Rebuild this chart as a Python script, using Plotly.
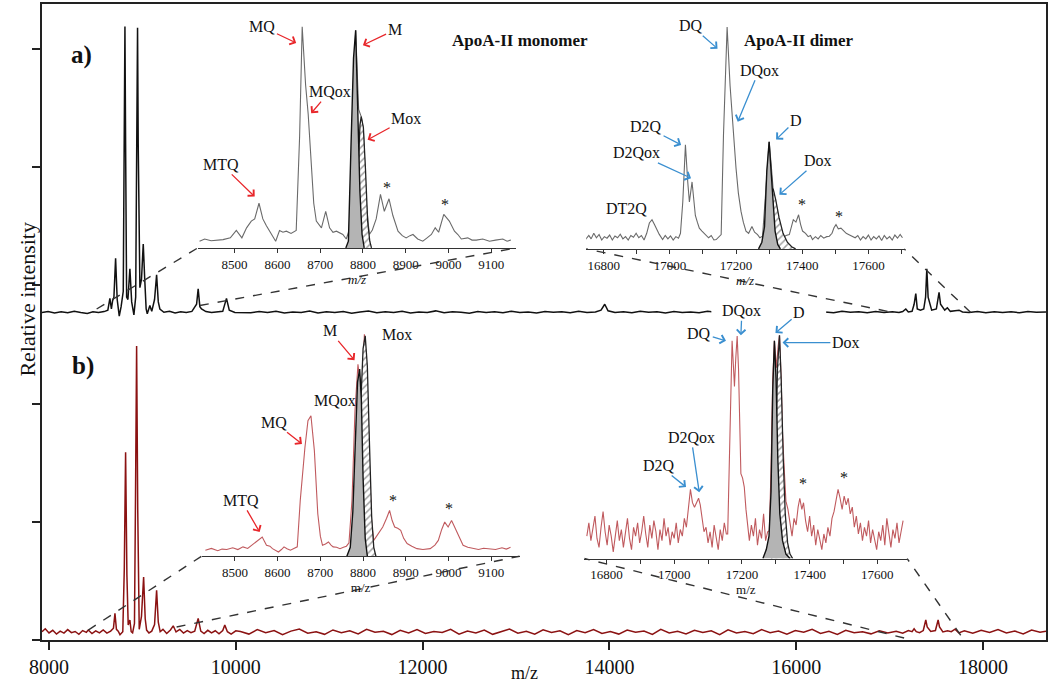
import plotly.graph_objects as go

FONT = "Liberation Serif, Times New Roman, serif"

# ---------------- main spectra: (m/z, relative intensity in tick units) ----------------
main_a = [
    (7925, 2.770), (7990, 2.778), (8060, 2.766), (8130, 2.776), (8200, 2.768), (8270, 2.780),
    (8340, 2.770), (8410, 2.762), (8470, 2.776), (8530, 2.770), (8590, 2.778), (8630, 2.790),
    (8652, 2.890), (8668, 2.800), (8681, 2.870), (8695, 2.900), (8713, 3.230), (8730, 2.880),
    (8752, 2.740), (8772, 2.820), (8795, 2.950), (8806, 4.200), (8813, 5.190), (8820, 4.200),
    (8831, 2.900), (8845, 2.880), (8866, 3.140), (8885, 2.860), (8909, 2.750), (8928, 2.900),
    (8940, 4.200), (8948, 5.180), (8955, 4.200), (8973, 2.980), (8990, 3.050), (9009, 3.350),
    (9025, 3.050), (9040, 2.800), (9052, 2.760), (9080, 2.830), (9100, 2.780), (9130, 2.880),
    (9152, 3.090), (9170, 2.860), (9187, 2.800), (9230, 2.772), (9290, 2.780), (9350, 2.766),
    (9410, 2.776), (9470, 2.770), (9530, 2.780), (9561, 2.820), (9580, 2.840), (9597, 2.970),
    (9615, 2.820), (9633, 2.800), (9680, 2.778), (9740, 2.770), (9800, 2.776), (9860, 2.780),
    (9900, 2.890), (9930, 2.790), (9990, 2.770), (10070, 2.772), (10160, 2.768), (10250, 2.778),
    (10340, 2.770), (10430, 2.781), (10520, 2.766), (10610, 2.775), (10700, 2.771), (10790, 2.783),
    (10880, 2.767), (10970, 2.776), (11060, 2.770), (11150, 2.779), (11240, 2.765), (11330, 2.774),
    (11420, 2.782), (11510, 2.769), (11600, 2.776), (11690, 2.771), (11780, 2.780), (11870, 2.766),
    (11960, 2.775), (12050, 2.770), (12140, 2.784), (12230, 2.768), (12320, 2.777), (12410, 2.772),
    (12500, 2.765), (12590, 2.779), (12680, 2.771), (12770, 2.776), (12860, 2.768), (12950, 2.781),
    (13040, 2.770), (13130, 2.775), (13220, 2.767), (13310, 2.779), (13400, 2.772), (13490, 2.776),
    (13580, 2.768), (13670, 2.780), (13760, 2.771), (13850, 2.775), (13910, 2.790), (13950, 2.840),
    (13985, 2.785), (14060, 2.770), (14150, 2.777), (14240, 2.768), (14330, 2.781), (14420, 2.772),
    (14510, 2.776), (14600, 2.767), (14690, 2.779), (14780, 2.771), (14870, 2.775), (14960, 2.768),
    (15050, 2.780), (15140, 2.772), (15230, 2.776), (15320, 2.769), (15410, 2.778), (15500, 2.771),
    (15590, 2.775), (15680, 2.767), (15770, 2.780), (15860, 2.772), (15950, 2.776), (16040, 2.769),
    (16130, 2.778), (16220, 2.771), (16310, 2.775), (16400, 2.768), (16490, 2.780), (16580, 2.772),
    (16670, 2.776), (16760, 2.769), (16850, 2.778), (16940, 2.771), (17030, 2.776), (17100, 2.770),
    (17140, 2.778), (17173, 2.800), (17200, 2.775), (17240, 2.780), (17262, 2.840), (17280, 2.930),
    (17296, 2.800), (17330, 2.790), (17365, 2.800), (17385, 2.900), (17398, 3.140), (17412, 2.900),
    (17450, 2.790), (17500, 2.800), (17515, 2.880), (17529, 2.940), (17545, 2.840), (17590, 2.790),
    (17618, 2.810), (17650, 2.780), (17700, 2.785), (17743, 2.790), (17780, 2.775), (17850, 2.770),
    (17940, 2.778), (18030, 2.768), (18120, 2.777), (18210, 2.771), (18300, 2.776), (18390, 2.768),
    (18480, 2.779), (18570, 2.772), (18674, 2.775),
]

main_b = [
    (7925, 0.070), (7960, 0.095), (8000, 0.060), (8040, 0.082), (8080, 0.050), (8120, 0.075),
    (8160, 0.058), (8200, 0.088), (8240, 0.062), (8280, 0.072), (8320, 0.048), (8360, 0.080),
    (8400, 0.065), (8420, 0.084), (8460, 0.055), (8500, 0.078), (8540, 0.060), (8580, 0.085),
    (8620, 0.058), (8660, 0.075), (8690, 0.100), (8706, 0.225), (8722, 0.090), (8741, 0.075),
    (8760, 0.045), (8790, 0.070), (8806, 0.600), (8820, 1.588), (8834, 0.550), (8848, 0.126),
    (8866, 0.169), (8880, 0.070), (8895, 0.060), (8915, 0.140), (8926, 1.200), (8938, 2.487),
    (8950, 1.100), (8966, 0.090), (8990, 0.200), (9013, 0.533), (9030, 0.180), (9045, 0.084),
    (9070, 0.060), (9100, 0.075), (9130, 0.130), (9152, 0.420), (9170, 0.150), (9190, 0.070),
    (9220, 0.090), (9260, 0.055), (9300, 0.085), (9330, 0.120), (9360, 0.068), (9400, 0.090),
    (9440, 0.058), (9480, 0.080), (9520, 0.062), (9560, 0.075), (9597, 0.183), (9625, 0.075),
    (9660, 0.055), (9700, 0.082), (9740, 0.060), (9780, 0.078), (9820, 0.052), (9860, 0.080),
    (9882, 0.126), (9910, 0.070), (9950, 0.050), (10000, 0.078), (10050, 0.072), (10140, 0.050),
    (10230, 0.088), (10320, 0.062), (10410, 0.080), (10500, 0.045), (10590, 0.075), (10680, 0.092),
    (10770, 0.058), (10860, 0.070), (10950, 0.048), (11040, 0.085), (11130, 0.062), (11220, 0.078),
    (11310, 0.052), (11400, 0.090), (11490, 0.066), (11580, 0.074), (11670, 0.046), (11760, 0.082),
    (11850, 0.060), (11940, 0.088), (12030, 0.055), (12120, 0.072), (12210, 0.064), (12300, 0.090),
    (12390, 0.050), (12480, 0.076), (12570, 0.060), (12660, 0.084), (12750, 0.048), (12840, 0.070),
    (12930, 0.092), (13020, 0.058), (13110, 0.074), (13200, 0.050), (13290, 0.086), (13380, 0.064),
    (13470, 0.078), (13560, 0.046), (13650, 0.080), (13740, 0.062), (13830, 0.088), (13920, 0.056),
    (14010, 0.072), (14100, 0.050), (14190, 0.084), (14280, 0.066), (14370, 0.076), (14460, 0.048),
    (14550, 0.090), (14640, 0.060), (14730, 0.074), (14820, 0.052), (14910, 0.082), (15000, 0.064),
    (15090, 0.078), (15180, 0.046), (15270, 0.086), (15360, 0.060), (15450, 0.072), (15540, 0.054),
    (15630, 0.088), (15720, 0.062), (15810, 0.076), (15900, 0.050), (15990, 0.080), (16080, 0.066),
    (16170, 0.090), (16260, 0.056), (16350, 0.074), (16440, 0.048), (16530, 0.082), (16620, 0.062),
    (16710, 0.070), (16800, 0.052), (16890, 0.078), (16980, 0.060), (17070, 0.074), (17140, 0.058),
    (17200, 0.080), (17240, 0.070), (17262, 0.095), (17285, 0.070), (17320, 0.062), (17360, 0.080),
    (17372, 0.120), (17387, 0.169), (17402, 0.110), (17440, 0.072), (17490, 0.080), (17505, 0.120),
    (17519, 0.169), (17534, 0.110), (17570, 0.068), (17620, 0.078), (17660, 0.070), (17700, 0.092),
    (17740, 0.060), (17800, 0.078), (17890, 0.058), (17980, 0.082), (18070, 0.064), (18160, 0.088),
    (18250, 0.060), (18340, 0.076), (18430, 0.052), (18520, 0.084), (18610, 0.066), (18674, 0.074),
]

# ---------------- inset spectra: (m/z, normalised intensity) ----------------
a_mono_line = [
    (8418, 0.030), (8430, 0.040), (8445, 0.032), (8460, 0.035), (8473, 0.037), (8490, 0.045),
    (8504, 0.078), (8517, 0.045), (8528, 0.090), (8539, 0.120), (8547, 0.130), (8557, 0.200),
    (8566, 0.130), (8574, 0.100), (8582, 0.075), (8590, 0.050), (8596, 0.030), (8605, 0.078),
    (8613, 0.070), (8621, 0.075), (8632, 0.065), (8644, 0.078), (8652, 0.500), (8658, 0.990),
    (8666, 0.730), (8672, 0.600), (8679, 0.390), (8685, 0.200), (8691, 0.120), (8703, 0.090),
    (8713, 0.164), (8722, 0.090), (8730, 0.070), (8738, 0.075), (8753, 0.060), (8761, 0.040),
    (8768, 0.080), (8775, 0.500), (8783, 0.975), (8790, 0.620), (8796, 0.588), (8801, 0.530),
    (8808, 0.200), (8815, 0.060), (8822, 0.080), (8831, 0.130), (8841, 0.240), (8850, 0.164),
    (8861, 0.220), (8870, 0.145), (8882, 0.075), (8892, 0.055), (8901, 0.045), (8910, 0.055),
    (8917, 0.060), (8928, 0.040), (8940, 0.030), (8950, 0.045), (8960, 0.060), (8969, 0.090),
    (8977, 0.070), (8989, 0.150), (9002, 0.120), (9014, 0.075), (9022, 0.060), (9030, 0.040),
    (9045, 0.045), (9055, 0.035), (9065, 0.035), (9080, 0.040), (9096, 0.030), (9110, 0.035),
    (9127, 0.040), (9137, 0.030), (9146, 0.035),
]
a_mono_M = [(8760, 0), (8766, 0.03), (8772, 0.45), (8778, 0.85), (8783, 0.975), (8788, 0.60),
            (8793, 0.25), (8798, 0.06), (8803, 0)]
a_mono_Mox = [(8782, 0), (8788, 0.30), (8793, 0.55), (8796, 0.588), (8801, 0.54), (8806, 0.35),
              (8811, 0.12), (8816, 0.03), (8820, 0)]

a_dim_line = [
    (16745, 0.042), (16755, 0.060), (16762, 0.045), (16770, 0.070), (16778, 0.050), (16786, 0.065),
    (16794, 0.040), (16802, 0.055), (16810, 0.048), (16818, 0.062), (16826, 0.040), (16834, 0.058),
    (16842, 0.050), (16850, 0.066), (16858, 0.045), (16866, 0.055), (16874, 0.040), (16882, 0.060),
    (16890, 0.052), (16898, 0.070), (16906, 0.050), (16914, 0.060), (16922, 0.040), (16930, 0.070),
    (16938, 0.116), (16946, 0.131), (16953, 0.110), (16960, 0.087), (16968, 0.065), (16978, 0.042),
    (16986, 0.060), (16994, 0.045), (17002, 0.058), (17010, 0.040), (17018, 0.055), (17026, 0.048),
    (17032, 0.070), (17039, 0.210), (17047, 0.466), (17054, 0.300), (17059, 0.210), (17067, 0.300),
    (17072, 0.220), (17077, 0.150), (17083, 0.120), (17089, 0.093), (17097, 0.080), (17109, 0.064),
    (17117, 0.050), (17125, 0.060), (17133, 0.040), (17140, 0.042), (17148, 0.055), (17155, 0.064),
    (17162, 0.510), (17173, 0.994), (17182, 0.730), (17190, 0.555), (17200, 0.360), (17207, 0.250),
    (17215, 0.168), (17222, 0.120), (17230, 0.080), (17238, 0.070), (17248, 0.100), (17256, 0.075),
    (17265, 0.064), (17272, 0.050), (17280, 0.057), (17287, 0.200), (17300, 0.480), (17306, 0.380),
    (17312, 0.270), (17320, 0.180), (17330, 0.090), (17341, 0.050), (17351, 0.060), (17361, 0.064),
    (17367, 0.100), (17373, 0.131), (17381, 0.120), (17389, 0.153), (17395, 0.110), (17401, 0.080),
    (17410, 0.070), (17418, 0.055), (17425, 0.060), (17431, 0.042), (17440, 0.055), (17448, 0.045),
    (17456, 0.060), (17465, 0.048), (17474, 0.055), (17482, 0.057), (17490, 0.070), (17496, 0.095),
    (17502, 0.109), (17509, 0.090), (17517, 0.093), (17525, 0.080), (17533, 0.070), (17540, 0.065),
    (17552, 0.057), (17560, 0.050), (17568, 0.060), (17576, 0.040), (17584, 0.055), (17592, 0.045),
    (17600, 0.062), (17608, 0.040), (17616, 0.055), (17624, 0.045), (17632, 0.058), (17640, 0.038),
    (17648, 0.060), (17656, 0.045), (17664, 0.055), (17672, 0.040), (17680, 0.062), (17688, 0.048),
    (17696, 0.065), (17703, 0.050),
]
a_dim_D = [(17268, 0), (17278, 0.03), (17286, 0.10), (17293, 0.35), (17300, 0.48), (17306, 0.36),
           (17312, 0.20), (17318, 0.08), (17326, 0.02), (17334, 0)]
a_dim_Dox = [(17290, 0), (17300, 0.15), (17306, 0.25), (17312, 0.27), (17320, 0.22), (17330, 0.14),
             (17342, 0.07), (17355, 0.03), (17368, 0.01), (17380, 0)]

b_mono_line = [
    (8431, 0.027), (8445, 0.035), (8460, 0.025), (8470, 0.032), (8481, 0.030), (8495, 0.038),
    (8507, 0.030), (8519, 0.042), (8530, 0.035), (8540, 0.050), (8546, 0.057), (8555, 0.070),
    (8564, 0.086), (8574, 0.049), (8582, 0.045), (8588, 0.034), (8595, 0.028), (8602, 0.019),
    (8609, 0.030), (8615, 0.042), (8622, 0.034), (8630, 0.027), (8638, 0.035), (8646, 0.042),
    (8653, 0.250), (8659, 0.400), (8664, 0.488), (8671, 0.607), (8678, 0.629), (8686, 0.473),
    (8694, 0.190), (8700, 0.090), (8705, 0.049), (8712, 0.055), (8719, 0.064), (8725, 0.050),
    (8730, 0.042), (8738, 0.040), (8746, 0.034), (8754, 0.040), (8761, 0.045), (8767, 0.060),
    (8774, 0.250), (8781, 0.650), (8788, 0.860), (8793, 0.780), (8797, 0.700), (8803, 0.994),
    (8809, 0.800), (8815, 0.400), (8820, 0.150), (8825, 0.071), (8835, 0.100), (8846, 0.131),
    (8855, 0.170), (8862, 0.205), (8868, 0.160), (8874, 0.131), (8881, 0.125), (8888, 0.116),
    (8895, 0.080), (8903, 0.057), (8914, 0.045), (8926, 0.034), (8940, 0.030), (8957, 0.034),
    (8968, 0.050), (8976, 0.071), (8984, 0.120), (8991, 0.153), (8999, 0.131), (9007, 0.160),
    (9012, 0.140), (9018, 0.116), (9026, 0.080), (9034, 0.049), (9045, 0.040), (9057, 0.034),
    (9070, 0.030), (9082, 0.036), (9095, 0.034), (9110, 0.030), (9125, 0.038), (9135, 0.032),
    (9145, 0.040),
]
b_mono_M = [(8762, 0), (8770, 0.04), (8776, 0.20), (8782, 0.55), (8787, 0.78), (8792, 0.838),
            (8796, 0.70), (8800, 0.35), (8805, 0.08), (8810, 0)]
b_mono_Mox = [(8782, 0), (8790, 0.30), (8795, 0.70), (8800, 0.93), (8805, 0.987), (8810, 0.85),
              (8815, 0.50), (8820, 0.18), (8825, 0.04), (8830, 0)]

b_dim_line = [
    (16742, 0.10), (16748, 0.16), (16754, 0.08), (16760, 0.13), (16766, 0.19), (16772, 0.09),
    (16778, 0.05), (16784, 0.14), (16790, 0.21), (16796, 0.12), (16802, 0.06), (16808, 0.15),
    (16814, 0.10), (16820, 0.03), (16826, 0.11), (16832, 0.17), (16838, 0.08), (16844, 0.13),
    (16850, 0.05), (16856, 0.12), (16862, 0.18), (16868, 0.09), (16874, 0.04), (16880, 0.14),
    (16886, 0.10), (16892, 0.16), (16898, 0.07), (16904, 0.12), (16910, 0.19), (16916, 0.11),
    (16922, 0.05), (16928, 0.15), (16934, 0.09), (16940, 0.17), (16946, 0.12), (16952, 0.04),
    (16958, 0.13), (16964, 0.08), (16970, 0.18), (16976, 0.10), (16982, 0.14), (16988, 0.06),
    (16994, 0.12), (17000, 0.09), (17006, 0.16), (17012, 0.07), (17018, 0.13), (17024, 0.10),
    (17030, 0.18), (17036, 0.14), (17042, 0.22), (17048, 0.31), (17054, 0.25), (17060, 0.23),
    (17066, 0.25), (17072, 0.27), (17077, 0.24), (17082, 0.18), (17088, 0.12), (17094, 0.14),
    (17100, 0.07), (17106, 0.12), (17112, 0.05), (17118, 0.15), (17124, 0.09), (17130, 0.04),
    (17136, 0.13), (17142, 0.08), (17148, 0.16), (17154, 0.11), (17158, 0.11), (17162, 0.40),
    (17166, 0.75), (17171, 0.975), (17175, 0.86), (17178, 0.77), (17182, 0.90), (17186, 0.997),
    (17190, 0.85), (17193, 0.60), (17197, 0.38), (17202, 0.36), (17207, 0.32), (17212, 0.22),
    (17217, 0.14), (17222, 0.08), (17228, 0.15), (17234, 0.10), (17240, 0.18), (17246, 0.06),
    (17252, 0.13), (17258, 0.09), (17264, 0.20), (17270, 0.08), (17276, 0.12), (17281, 0.125),
    (17286, 0.40), (17291, 0.80), (17296, 0.975), (17302, 0.855), (17307, 0.95), (17311, 1.00),
    (17316, 0.80), (17320, 0.56), (17325, 0.40), (17330, 0.257), (17336, 0.22), (17342, 0.16),
    (17348, 0.10), (17354, 0.18), (17360, 0.15), (17366, 0.23), (17371, 0.27), (17377, 0.22),
    (17382, 0.25), (17388, 0.17), (17394, 0.12), (17400, 0.19), (17406, 0.10), (17412, 0.15),
    (17418, 0.06), (17424, 0.13), (17430, 0.09), (17436, 0.04), (17442, 0.11), (17448, 0.07),
    (17454, 0.14), (17460, 0.10), (17466, 0.18), (17472, 0.21), (17478, 0.26), (17484, 0.31),
    (17490, 0.27), (17496, 0.22), (17502, 0.28), (17508, 0.24), (17514, 0.27), (17520, 0.20),
    (17526, 0.23), (17532, 0.14), (17538, 0.19), (17544, 0.11), (17550, 0.16), (17556, 0.08),
    (17562, 0.14), (17568, 0.10), (17574, 0.17), (17580, 0.07), (17586, 0.13), (17592, 0.09),
    (17598, 0.04), (17604, 0.12), (17610, 0.08), (17616, 0.15), (17622, 0.06), (17628, 0.18),
    (17634, 0.11), (17640, 0.05), (17646, 0.13), (17652, 0.09), (17658, 0.16), (17664, 0.07),
    (17670, 0.12), (17676, 0.17),
]
b_dim_D = [(17262, 0), (17272, 0.04), (17280, 0.10), (17286, 0.30), (17291, 0.75), (17296, 0.975),
           (17301, 0.80), (17306, 0.45), (17312, 0.20), (17320, 0.08), (17330, 0.02), (17342, 0)]
b_dim_Dox = [(17288, 0), (17295, 0.15), (17300, 0.45), (17305, 0.85), (17311, 1.0), (17316, 0.80),
             (17322, 0.45), (17328, 0.20), (17335, 0.07), (17342, 0.02), (17350, 0)]

# peak labels: (text, tip m/z, tip int, label m/z, label int); tip None -> no arrow
labels_a_mono = [("MQ", 8644, 0.918, 8565, 0.99), ("MQox", 8679, 0.603, 8722, 0.70),
                 ("MTQ", 8547, 0.23, 8469, 0.374), ("M", 8800, 0.908, 8874, 0.976),
                 ("Mox", 8811, 0.484, 8901, 0.579), ("*", None, None, 8856, 0.27),
                 ("*", None, None, 8991, 0.195)]
labels_a_dim = [("DQ", 17144, 0.897, 17065, 1.0), ("DQox", 17205, 0.57, 17270, 0.80),
                ("D2Q", 17034, 0.466, 16928, 0.548), ("D2Qox", 17064, 0.317, 16898, 0.43),
                ("DT2Q", None, None, 16868, 0.183), ("D", 17321, 0.49, 17381, 0.576),
                ("Dox", 17331, 0.243, 17447, 0.395), ("*", None, None, 17398, 0.198),
                ("*", None, None, 17512, 0.146)]
labels_b_mono = [("M", 8780, 0.878, 8722, 1.009), ("Mox", None, None, 8880, 0.994),
                 ("MQox", None, None, 8734, 0.696), ("MQ", 8657, 0.503, 8592, 0.60),
                 ("MTQ", 8558, 0.108, 8515, 0.25), ("*", None, None, 8869, 0.25),
                 ("*", None, None, 9001, 0.213)]
labels_b_dim = [("DQ", 17153, 0.975, 17074, 1.01), ("DQox", 17197, 1.0, 17200, 1.11),
                ("D", 17299, 1.01, 17369, 1.10), ("Dox", 17320, 0.967, 17507, 0.967),
                ("D2Qox", 17074, 0.297, 17050, 0.543), ("D2Q", 17035, 0.32, 16956, 0.417),
                ("*", None, None, 17379, 0.337), ("*", None, None, 17502, 0.364)]

# regions of the main spectrum that each inset magnifies: (m/z from, m/z to, level from, level to)
zoom_a_mono = (8510, 9615, 2.80, 2.83)
zoom_a_dim = (16977, 17868, 2.78, 2.77)
zoom_b_mono = (8420, 9366, 0.084, 0.11)
zoom_b_dim = (17155, 17761, 0.017, 0.04)

# ---------------- axes geometry ----------------
MAIN_X = [7925, 18674]
MAIN_Y = [0, 5.38]
insets = {
    "a_mono": dict(ax=2, xr=[8414, 9159], xd=[0.1552, 0.4726], yr=[0, 1.05], yd=[0.6165, 0.9851],
                   dtick=100, tick0=8500, minor=None, title="<i>m/z</i>"),
    "a_dim": dict(ax=3, xr=[16747, 17708], xd=[0.5420, 0.8587], yr=[0, 1.05], yd=[0.6149, 0.9835],
                  dtick=200, tick0=16800, minor=100, title="<i>m/z</i>"),
    "b_mono": dict(ax=4, xr=[8422, 9166], xd=[0.1589, 0.4756], yr=[0, 1.2], yd=[0.1317, 0.5530],
                   dtick=100, tick0=8500, minor=None, title="m/z"),
    "b_dim": dict(ax=5, xr=[16735, 17688], xd=[0.5403, 0.8617], yr=[0, 1.2], yd=[0.1281, 0.5494],
                  dtick=200, tick0=16800, minor=100, title="m/z"),
}

RED_ARROW = "#e8262a"
BLUE_ARROW = "#3a8fd0"


def xs(pts):
    return [p[0] for p in pts]


def ys(pts):
    return [p[1] for p in pts]


def main_to_paper(mz, v):
    return ((mz - MAIN_X[0]) / (MAIN_X[1] - MAIN_X[0]), (v - MAIN_Y[0]) / (MAIN_Y[1] - MAIN_Y[0]))


def inset_to_paper(ins, mz, v):
    xr, xd, yr, yd = ins["xr"], ins["xd"], ins["yr"], ins["yd"]
    px = xd[0] + (mz - xr[0]) / (xr[1] - xr[0]) * (xd[1] - xd[0])
    py = yd[0] + (v - yr[0]) / (yr[1] - yr[0]) * (yd[1] - yd[0])
    return px, py


fig = go.Figure()

# main spectra
fig.add_trace(go.Scatter(x=xs(main_a), y=ys(main_a), mode="lines",
                         line=dict(color="#111111", width=1.5), showlegend=False))
fig.add_trace(go.Scatter(x=xs(main_b), y=ys(main_b), mode="lines",
                         line=dict(color="#8b1212", width=1.5), showlegend=False))


def add_inset(ins, line_pts, line_color, main_peak, ox_peak):
    n = ins["ax"]
    xa, ya = "x%d" % n, "y%d" % n
    fig.add_trace(go.Scatter(x=xs(line_pts), y=ys(line_pts), mode="lines", xaxis=xa, yaxis=ya,
                             line=dict(color=line_color, width=1.1), showlegend=False))
    fig.add_trace(go.Scatter(x=xs(ox_peak), y=ys(ox_peak), mode="lines", xaxis=xa, yaxis=ya,
                             fill="toself",
                             fillpattern=dict(shape="/", fgcolor="#444444", bgcolor="white",
                                              size=5, solidity=0.3),
                             line=dict(color="#222222", width=1.3), showlegend=False))
    fig.add_trace(go.Scatter(x=xs(main_peak), y=ys(main_peak), mode="lines", xaxis=xa, yaxis=ya,
                             fill="toself", fillcolor="#b4b4b4",
                             line=dict(color="#111111", width=1.4), showlegend=False))


add_inset(insets["a_mono"], a_mono_line, "#6a6a6a", a_mono_M, a_mono_Mox)
add_inset(insets["a_dim"], a_dim_line, "#6a6a6a", a_dim_D, a_dim_Dox)
add_inset(insets["b_mono"], b_mono_line, "#c05a5e", b_mono_M, b_mono_Mox)
add_inset(insets["b_dim"], b_dim_line, "#c05a5e", b_dim_D, b_dim_Dox)

layout = dict(
    width=1050, height=697,
    margin=dict(l=42, r=3, t=2, b=57),
    paper_bgcolor="white", plot_bgcolor="rgba(0,0,0,0)",
    font=dict(family=FONT, color="#111111", size=16),
    showlegend=False,
    xaxis=dict(range=MAIN_X, domain=[0, 1], tickvals=[8000, 10000, 12000, 14000, 16000, 18000],
               tickformat="d",
               ticks="outside", ticklen=8, tickwidth=1.6, tickcolor="#222",
               showline=True, linewidth=2, linecolor="#222", mirror=True,
               showgrid=False, zeroline=False, tickfont=dict(size=20, family=FONT)),
    yaxis=dict(range=MAIN_Y, domain=[0, 1], dtick=1, tick0=0, ticks="outside", ticklen=8,
               tickwidth=1.6, tickcolor="#222", showticklabels=False,
               showline=True, linewidth=2, linecolor="#222", mirror=True,
               showgrid=False, zeroline=False),
)

for key, ins in insets.items():
    n = ins["ax"]
    xa = dict(range=ins["xr"], domain=ins["xd"], anchor="y%d" % n, dtick=ins["dtick"],
              tick0=ins["tick0"], tickformat="d", ticks="outside", ticklen=4, tickwidth=1,
              tickcolor="#333", showline=True, linewidth=1.3, linecolor="#333", showgrid=False,
              zeroline=False, tickfont=dict(size=13, family=FONT),
              title=dict(text=ins["title"], font=dict(size=13, family=FONT), standoff=2))
    if ins["minor"]:
        xa["minor"] = dict(dtick=ins["minor"], tick0=ins["tick0"], ticks="outside", ticklen=4,
                           tickwidth=1, tickcolor="#333")
    ya = dict(range=ins["yr"], domain=ins["yd"], anchor="x%d" % n, visible=False)
    layout["xaxis%d" % n] = xa
    layout["yaxis%d" % n] = ya

fig.update_layout(**layout)

# dashed zoom connectors
shapes = []
for key, win in [("a_mono", zoom_a_mono), ("a_dim", zoom_a_dim),
                 ("b_mono", zoom_b_mono), ("b_dim", zoom_b_dim)]:
    ins = insets[key]
    for mz_main, lvl, mz_ins in [(win[0], win[2], ins["xr"][0]), (win[1], win[3], ins["xr"][1])]:
        x0, y0 = main_to_paper(mz_main, lvl)
        x1, y1 = inset_to_paper(ins, mz_ins, 0)
        shapes.append(dict(type="line", xref="paper", yref="paper", x0=x0, y0=y0, x1=x1, y1=y1,
                           line=dict(color="#333333", width=1.4, dash="dash"), layer="above"))

# white patch behind the b) dimer labels
shapes.append(dict(type="rect", xref="paper", yref="paper",
                   x0=(712 - 42) / 1005, x1=(827 - 42) / 1005,
                   y0=(640 - 321) / 638, y1=(640 - 304) / 638,
                   fillcolor="white", line=dict(width=0), layer="above"))
fig.update_layout(shapes=shapes)

annotations = []


def add_labels(ins, labels, arrow_color):
    n = ins["ax"]
    for text, tx, ty, lx, ly in labels:
        size = 16
        if tx is None:
            annotations.append(dict(xref="x%d" % n, yref="y%d" % n, x=lx, y=ly, text=text,
                                    showarrow=False, font=dict(size=size, family=FONT)))
        else:
            annotations.append(dict(xref="x%d" % n, yref="y%d" % n, x=tx, y=ty,
                                    axref="x%d" % n, ayref="y%d" % n, ax=lx, ay=ly, text=text,
                                    showarrow=True, arrowhead=4, arrowsize=1.3, arrowwidth=1.3,
                                    arrowcolor=arrow_color, standoff=0,
                                    font=dict(size=size, family=FONT)))


add_labels(insets["a_mono"], labels_a_mono, RED_ARROW)
add_labels(insets["a_dim"], labels_a_dim, BLUE_ARROW)
add_labels(insets["b_mono"], labels_b_mono, RED_ARROW)
add_labels(insets["b_dim"], labels_b_dim, BLUE_ARROW)

annotations += [
    dict(xref="paper", yref="paper", x=(69 - 42) / 1005, y=(640 - 37) / 638, text="<b>a)</b>",
         showarrow=False, font=dict(size=25, family=FONT)),
    dict(xref="paper", yref="paper", x=(70 - 42) / 1005, y=(640 - 365) / 638, text="<b>b)</b>",
         showarrow=False, font=dict(size=25, family=FONT)),
    dict(xref="paper", yref="paper", x=(520 - 42) / 1005, y=(640 - 27) / 638,
         text="<b>ApoA-II monomer</b>", showarrow=False, font=dict(size=17, family=FONT)),
    dict(xref="paper", yref="paper", x=(857 - 42) / 1005, y=(640 - 27) / 638,
         text="<b>ApoA-II dimer</b>", showarrow=False, font=dict(size=17, family=FONT)),
    dict(xref="paper", yref="paper", x=(13 - 42) / 1005, y=(640 - 298) / 638,
         text="Relative intensity", textangle=-90, showarrow=False,
         font=dict(size=22, family=FONT)),
    dict(xref="paper", yref="paper", x=(525 - 42) / 1005, y=(640 - 685) / 638,
         text="m/z", showarrow=False, font=dict(size=18, family=FONT)),
]
fig.update_layout(annotations=annotations)

fig.write_html("out.html", config={"displayModeBar": False},
               post_script="document.body.style.margin='0px';document.body.style.overflow='hidden';")
